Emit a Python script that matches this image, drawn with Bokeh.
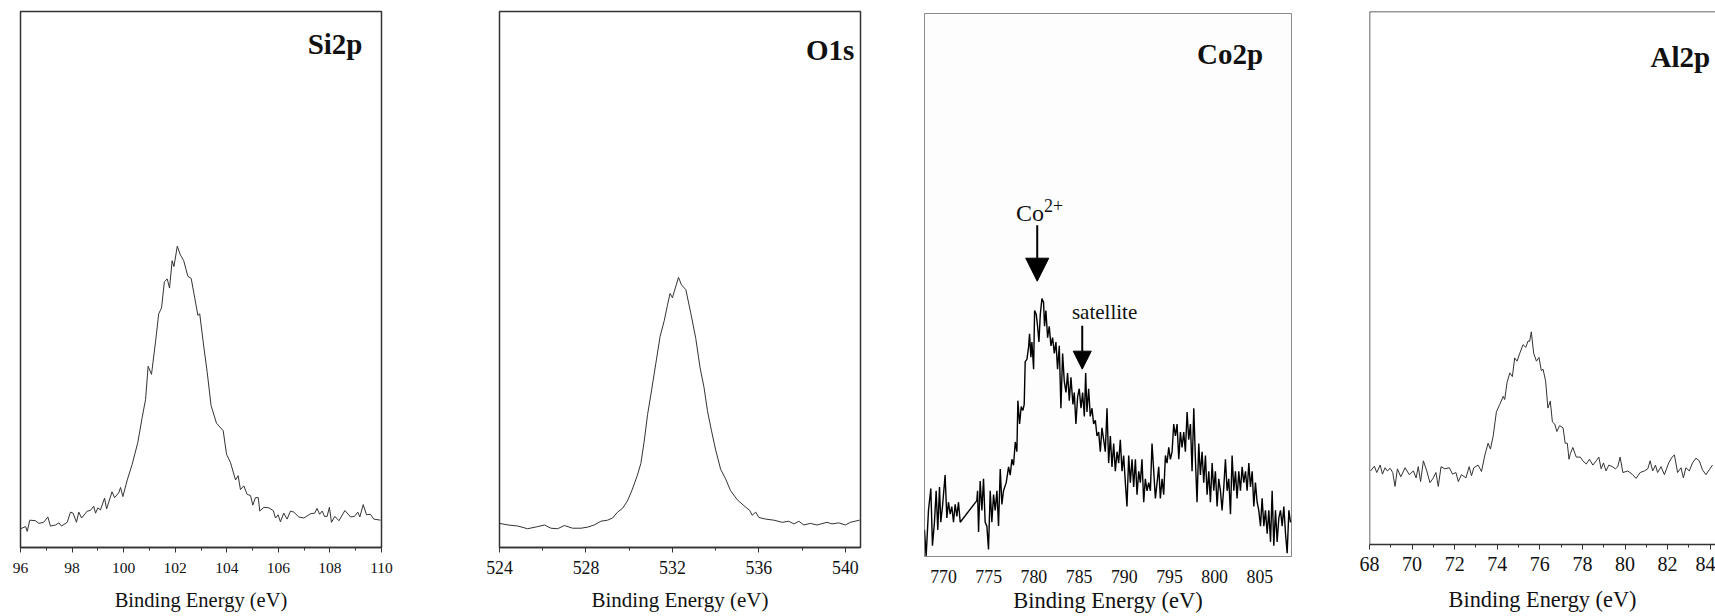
from bokeh.plotting import figure
from bokeh.layouts import row
from bokeh.models import Range1d, FixedTicker, Label, Arrow, NormalHead, Span
from bokeh.embed import file_html
from bokeh.resources import INLINE

SERIF = "Liberation Serif"
XLABEL = "Binding Energy (eV)"

# ---------------- Si2p ----------------
si_energy = [
    96.0, 96.2, 96.26, 96.36, 96.58, 96.71, 96.9, 97.06, 97.16, 97.36,
    97.49, 97.59, 97.81, 97.94, 98.04, 98.17, 98.26, 98.37, 98.59, 98.71,
    98.84, 98.91, 99.0, 99.1, 99.26, 99.34, 99.55, 99.65, 99.81, 99.88,
    99.97, 100.14, 100.33, 100.55, 100.72, 100.85, 100.95, 101.08, 101.24, 101.36,
    101.47, 101.58, 101.69, 101.78, 101.88, 101.95, 102.08, 102.2, 102.33, 102.49,
    102.62, 102.76, 102.88, 102.95, 103.11, 103.24, 103.39, 103.6, 103.86, 103.99,
    104.14, 104.34, 104.44, 104.53, 104.66, 104.79, 104.92, 105.01, 105.11, 105.22,
    105.28, 105.44, 105.63, 105.8, 105.89, 105.99, 106.08, 106.21, 106.34, 106.47,
    106.6, 106.79, 106.99, 107.25, 107.41, 107.5, 107.6, 107.7, 107.79, 107.89,
    107.98, 108.06, 108.19, 108.35, 108.58, 108.8, 108.95, 109.08, 109.16, 109.29,
    109.42, 109.57, 109.7, 109.96,
]
si_intensity = [
    3.5, 3.9, 3.0, 5.1, 5.0, 4.5, 4.7, 5.7, 4.0, 4.2,
    4.6, 4.0, 4.7, 6.6, 6.4, 4.7, 6.6, 5.5, 6.8, 6.9,
    7.7, 6.4, 7.4, 7.0, 9.2, 7.2, 10.4, 9.3, 10.2, 11.2,
    9.5, 12.6, 15.5, 19.6, 24.3, 27.6, 33.8, 32.3, 38.5, 43.6,
    44.7, 49.6, 50.1, 48.4, 53.5, 52.4, 56.2, 54.6, 53.5, 50.6,
    50.2, 46.5, 43.3, 43.6, 37.4, 32.7, 26.5, 23.2, 21.8, 17.4,
    15.9, 12.6, 13.4, 10.8, 11.5, 9.9, 9.7, 7.9, 9.3, 9.3,
    6.8, 7.5, 7.4, 6.9, 5.5, 6.1, 4.8, 6.4, 5.3, 6.8,
    6.6, 5.7, 5.5, 6.3, 6.4, 7.3, 6.2, 6.8, 5.8, 5.8,
    7.5, 4.7, 5.8, 5.0, 6.9, 5.7, 5.8, 6.6, 5.7, 8.0,
    6.1, 6.2, 5.3, 5.1,
]
si_ticks = [96, 98, 100, 102, 104, 106, 108, 110]
si_minor = [97, 99, 101, 103, 105, 107, 109]

# ---------------- O1s ----------------
o_energy = [
    524.0, 524.4, 524.85, 525.3, 525.77, 526.08, 526.38, 526.69, 527.0, 527.38,
    527.77, 528.08, 528.38, 528.69, 529.0, 529.23, 529.46, 529.69, 529.92, 530.15,
    530.38, 530.54, 530.69, 530.85, 531.03, 531.23, 531.43, 531.62, 531.77, 531.89,
    532.0, 532.08, 532.28, 532.42, 532.62, 532.85, 533.08, 533.28, 533.46, 533.62,
    533.8, 534.0, 534.23, 534.46, 534.69, 535.0, 535.31, 535.58, 535.69, 535.85,
    536.0, 536.31, 536.69, 537.08, 537.38, 537.62, 537.85, 538.08, 538.38, 538.69,
    539.15, 539.38, 539.69, 540.0, 540.23, 540.66,
]
o_intensity = [
    4.5, 4.2, 4.0, 3.5, 3.9, 4.2, 3.6, 3.5, 4.1, 3.6,
    3.6, 3.8, 4.2, 4.9, 5.1, 5.5, 6.6, 7.3, 8.7, 10.9,
    13.5, 15.7, 19.7, 24.8, 29.2, 34.3, 39.4, 42.3, 45.2, 47.4,
    46.6, 47.7, 50.4, 49.0, 48.1, 43.7, 39.0, 33.5, 29.9, 25.5,
    21.9, 18.2, 14.6, 12.8, 10.6, 8.9, 7.8, 6.9, 6.0, 6.6,
    5.6, 5.3, 5.1, 4.7, 4.9, 4.4, 4.9, 4.2, 4.5, 4.2,
    4.7, 4.4, 4.6, 4.2, 4.7, 5.1,
]
o_ticks = [524, 528, 532, 536, 540]
o_minor = [526, 530, 534, 538]

# ---------------- Co2p ----------------
co_energy = [
    767.90, 768.08, 768.34, 768.60, 768.78, 769.00, 769.19, 769.37, 769.56, 769.70,
    769.89, 770.18, 770.37, 770.55, 770.74, 770.92, 771.11, 771.29, 771.48, 771.66,
    771.85, 773.69, 773.77, 773.88, 774.06, 774.25, 774.43, 774.61, 774.80, 774.98,
    775.17, 775.35, 775.54, 775.72, 775.91, 776.09, 776.28, 776.46, 776.64, 776.94,
    777.20, 777.38, 777.57, 777.75, 777.94, 778.12, 778.23, 778.42, 778.60, 778.79,
    778.93, 779.04, 779.23, 779.41, 779.52, 779.67, 779.78, 779.97, 780.08, 780.26,
    780.41, 780.56, 780.71, 780.89, 781.07, 781.18, 781.33, 781.52, 781.70, 781.89,
    782.07, 782.26, 782.44, 782.62, 782.81, 782.99, 783.18, 783.36, 783.55, 783.73,
    783.92, 784.10, 784.32, 784.47, 784.65, 784.84, 785.02, 785.21, 785.39, 785.58,
    785.73, 785.87, 786.06, 786.24, 786.43, 786.61, 786.80, 786.98, 787.17, 787.35,
    787.53, 787.72, 787.90, 788.09, 788.27, 788.46, 788.64, 788.83, 789.01, 789.20,
    789.38, 789.56, 789.75, 789.93, 790.12, 790.30, 790.49, 790.67, 790.86, 791.04,
    791.23, 791.41, 791.60, 791.78, 791.96, 792.15, 792.33, 792.52, 792.70, 792.89,
    793.07, 793.26, 793.44, 793.63, 793.81, 793.99, 794.18, 794.36, 794.55, 794.73,
    794.92, 795.10, 795.29, 795.47, 795.66, 795.84, 796.03, 796.21, 796.39, 796.58,
    796.76, 796.95, 797.13, 797.32, 797.50, 797.69, 797.87, 798.05, 798.24, 798.42,
    798.61, 798.79, 798.98, 799.16, 799.35, 799.53, 799.72, 799.90, 800.08, 800.27,
    800.45, 800.64, 800.82, 801.01, 801.19, 801.38, 801.56, 801.75, 801.93, 802.12,
    802.30, 802.48, 802.67, 802.85, 803.04, 803.22, 803.41, 803.59, 803.78, 803.96,
    804.15, 804.33, 804.51, 804.70, 804.88, 805.07, 805.25, 805.44, 805.62, 805.81,
    805.99, 806.18, 806.36, 806.54, 806.73, 806.91, 807.10, 807.28, 807.47, 807.65,
    807.84, 808.02, 808.21, 808.39,
]
co_intensity = [
    4.9, 0.0, 8.5, 12.5, 2.0, 6.3, 12.1, 4.9, 12.8, 6.3,
    9.2, 15.0, 7.1, 10.0, 7.8, 9.2, 6.3, 9.6, 7.4, 10.0,
    6.3, 10.3, 12.1, 4.5, 13.9, 8.5, 14.3, 6.3, 5.6, 1.3,
    12.1, 6.3, 11.4, 8.5, 12.1, 5.6, 16.1, 9.6, 12.1, 13.6,
    16.5, 15.0, 17.9, 16.8, 21.1, 19.3, 28.7, 24.4, 27.6, 26.9,
    28.0, 35.9, 36.3, 38.5, 41.0, 36.7, 39.5, 34.5, 45.3, 44.6,
    42.4, 39.5, 44.6, 47.5, 46.8, 42.4, 45.3, 40.3, 42.4, 38.8,
    40.3, 37.4, 39.5, 34.5, 38.8, 27.3, 37.4, 32.3, 30.2, 33.8,
    28.7, 33.0, 28.0, 30.2, 24.4, 29.4, 30.9, 27.3, 30.2, 25.8,
    33.8, 26.6, 30.9, 25.8, 27.3, 24.4, 25.1, 22.2, 22.9, 19.3,
    23.7, 21.5, 19.3, 27.3, 17.2, 22.2, 16.5, 20.8, 15.7, 19.3,
    17.2, 21.5, 15.7, 18.6, 13.6, 9.2, 18.6, 13.6, 17.9, 12.8,
    17.9, 11.4, 15.7, 13.6, 17.9, 10.0, 14.3, 12.1, 13.6, 12.1,
    20.8, 15.7, 10.7, 13.6, 16.5, 10.7, 14.3, 11.4, 18.6, 17.2,
    20.1, 17.9, 19.3, 24.4, 22.2, 24.4, 17.9, 22.9, 20.1, 22.9,
    19.3, 26.6, 21.5, 24.4, 15.7, 27.3, 17.9, 10.0, 20.8, 15.0,
    19.3, 13.6, 18.6, 11.4, 15.7, 10.0, 17.2, 12.1, 15.7, 9.2,
    14.3, 12.1, 8.5, 12.8, 17.9, 12.1, 14.3, 7.8, 18.6, 12.1,
    15.7, 10.7, 15.7, 12.1, 16.5, 13.6, 15.7, 12.1, 17.2, 12.8,
    15.7, 9.2, 13.6, 10.0, 8.5, 5.6, 10.7, 5.6, 8.5, 4.2,
    8.5, 2.7, 12.1, 2.0, 8.5, 2.7, 7.1, 8.5, 5.6, 9.2,
    4.2, 0.6, 8.5, 6.3,
]
co_ticks = [770, 775, 780, 785, 790, 795, 800, 805]

# ---------------- Al2p ----------------
al_energy = [
    68.05, 68.23, 68.34, 68.5, 68.61, 68.73, 68.84, 68.97, 69.09, 69.2,
    69.31, 69.47, 69.67, 69.87, 70.06, 70.19, 70.29, 70.4, 70.53, 70.69,
    70.84, 71.0, 71.12, 71.23, 71.36, 71.54, 71.75, 71.9, 72.06, 72.17,
    72.32, 72.53, 72.68, 72.79, 72.9, 73.1, 73.26, 73.42, 73.57, 73.68,
    73.81, 73.96, 74.12, 74.28, 74.35, 74.46, 74.59, 74.71, 74.82, 74.93,
    75.06, 75.21, 75.34, 75.45, 75.52, 75.6, 75.71, 75.84, 75.96, 76.07,
    76.15, 76.27, 76.38, 76.49, 76.59, 76.7, 76.8, 76.93, 77.09, 77.19,
    77.29, 77.37, 77.44, 77.55, 77.71, 77.9, 78.02, 78.18, 78.33, 78.49,
    78.65, 78.77, 78.88, 78.99, 79.11, 79.24, 79.4, 79.55, 79.66, 79.77,
    79.9, 80.13, 80.36, 80.52, 80.71, 80.91, 81.07, 81.18, 81.3, 81.43,
    81.53, 81.69, 81.85, 82.05, 82.21, 82.32, 82.47, 82.63, 82.74, 82.86,
    83.02, 83.17, 83.33, 83.49, 83.64, 83.8, 83.95, 84.11,
]
al_intensity = [
    13.8, 14.7, 13.5, 14.9, 13.2, 14.4, 13.8, 14.3, 13.5, 10.9,
    14.2, 12.7, 14.4, 13.1, 13.8, 12.5, 14.6, 11.8, 15.7, 13.8,
    11.6, 12.5, 13.5, 10.9, 14.6, 14.2, 14.4, 13.2, 13.5, 11.8,
    13.1, 12.5, 14.6, 12.9, 14.4, 14.9, 13.7, 16.8, 19.0, 17.9,
    20.4, 24.9, 26.3, 27.8, 27.2, 30.4, 32.2, 31.5, 35.0, 34.4,
    35.9, 37.5, 37.0, 38.2, 38.1, 39.9, 35.9, 34.4, 35.1, 32.6,
    32.9, 30.7, 25.6, 26.9, 23.0, 22.6, 21.2, 22.3, 21.9, 19.0,
    19.0, 16.0, 17.1, 18.2, 16.4, 16.4, 15.7, 15.1, 16.0, 14.9,
    15.7, 16.4, 14.2, 15.3, 13.8, 14.9, 14.6, 14.2, 14.6, 16.4,
    13.5, 13.8, 13.1, 12.4, 13.5, 13.8, 14.2, 15.7, 13.8, 14.9,
    13.5, 14.6, 13.1, 15.3, 16.4, 16.8, 13.5, 14.4, 12.5, 14.4,
    13.8, 15.3, 16.2, 15.7, 14.0, 13.1, 14.0, 14.9,
]
al_ticks = [68, 70, 72, 74, 76, 78, 80, 82, 84]
al_minor = [69, 71, 73, 75, 77, 79, 81, 83]

HEIGHT = 616
TXT = "#111111"
DARK = "#333333"


def panel(x, y, xr, ticks, minor, width, mbl, mbr, mbt, mbb, tick_fs, title_fs,
          lstand, astand, line_color, line_width, frame_color, frame_width,
          tick_out, minor_out, outline=True, bg="white"):
    p = figure(width=width, height=HEIGHT, x_range=Range1d(*xr), y_range=Range1d(0, 100),
               output_backend="svg", toolbar_location=None, y_axis_location=None,
               min_border_left=mbl, min_border_right=mbr, min_border_top=mbt,
               min_border_bottom=mbb, background_fill_color=bg,
               border_fill_color="white")
    try:
        p.frame_align = False   # each panel keeps its own frame position
    except Exception:
        pass
    p.grid.visible = False
    p.line(x, y, line_color=line_color, line_width=line_width)
    p.outline_line_color = frame_color if outline else None
    p.outline_line_width = frame_width
    ax = p.xaxis[0]
    ax.ticker = FixedTicker(ticks=ticks, minor_ticks=minor)
    ax.axis_label = XLABEL
    ax.axis_label_text_font = SERIF
    ax.axis_label_text_font_style = "normal"
    ax.axis_label_text_font_size = f"{title_fs}px"
    ax.axis_label_text_color = TXT
    ax.axis_label_text_line_height = 1.0
    ax.axis_label_standoff = astand
    ax.major_label_text_font = SERIF
    ax.major_label_text_font_size = f"{tick_fs}px"
    ax.major_label_text_color = TXT
    ax.major_label_text_line_height = 1.0
    ax.major_label_standoff = lstand
    ax.axis_line_color = frame_color
    ax.axis_line_width = frame_width
    ax.major_tick_in = 0
    ax.minor_tick_in = 0
    ax.major_tick_out = tick_out
    ax.minor_tick_out = minor_out
    ax.major_tick_line_color = frame_color if tick_out else None
    ax.minor_tick_line_color = frame_color if minor_out else None
    return p


def title(p, x, y, text):
    p.add_layout(Label(x=x, y=y, text=text, text_font=SERIF, text_font_style="bold",
                       text_font_size="29px", text_align="center",
                       text_baseline="alphabetic", text_color=TXT))


p1 = panel(si_energy, si_intensity, (96, 110), si_ticks, si_minor,
           440, 20, 59, 11, 69, 15.5, 20.5, 10, 13, DARK, 1, DARK, 1.5, 5, 3)
title(p1, 108.2, 94.0, "Si2p")

p2 = panel(o_energy, o_intensity, (524, 540.7), o_ticks, o_minor,
           452, 59, 32, 11, 69, 17.8, 21, 8, 11, DARK, 1, DARK, 1.5, 5, 3)
title(p2, 539.3, 92.8, "O1s")

p3 = panel(co_energy, co_intensity, (767.9, 808.5), co_ticks, [],
           436, 32, 37, 13, 60, 17.8, 22.5, 13, 2, "black", 1.4, "#8a8a8a", 1, 0, 0,
           bg="#fdfdfd")
title(p3, 801.7, 92.6, "Co2p")
p3.add_layout(Label(x=781.12, y=63.2, text="Co", text_font=SERIF, text_font_size="24px",
                    text_align="right", text_baseline="alphabetic", text_color=TXT))
p3.add_layout(Label(x=781.12, y=64.6, text="2+", text_font=SERIF, text_font_size="18px",
                    text_align="left", text_baseline="alphabetic", text_color=TXT))
p3.add_layout(Arrow(end=NormalHead(size=23, fill_color="black", line_color="black"),
                    x_start=780.37, y_start=61.0, x_end=780.37, y_end=50.7,
                    line_width=2, line_color="black"))
p3.add_layout(Label(x=787.82, y=45.0, text="satellite", text_font=SERIF,
                    text_font_size="21px", text_align="center",
                    text_baseline="alphabetic", text_color=TXT))
p3.add_layout(Arrow(end=NormalHead(size=18, fill_color="black", line_color="black"),
                    x_start=785.35, y_start=42.5, x_end=785.35, y_end=34.5,
                    line_width=2, line_color="black"))

p4 = panel(al_energy, al_intensity, (68, 84.25), al_ticks, al_minor,
           387, 41, 0, 11, 72, 20, 22.3, 7, 13, DARK, 1, DARK, 1.5, 5, 3, outline=False)
p4.add_layout(Span(location=68, dimension="height", line_color=DARK, line_width=1.5))
p4.add_layout(Span(location=100, dimension="width", line_color=DARK, line_width=1.5))
title(p4, 82.6, 91.4, "Al2p")

layout = row(p1, p2, p3, p4, spacing=0)
open("out.html", "w").write(file_html(layout, INLINE))
